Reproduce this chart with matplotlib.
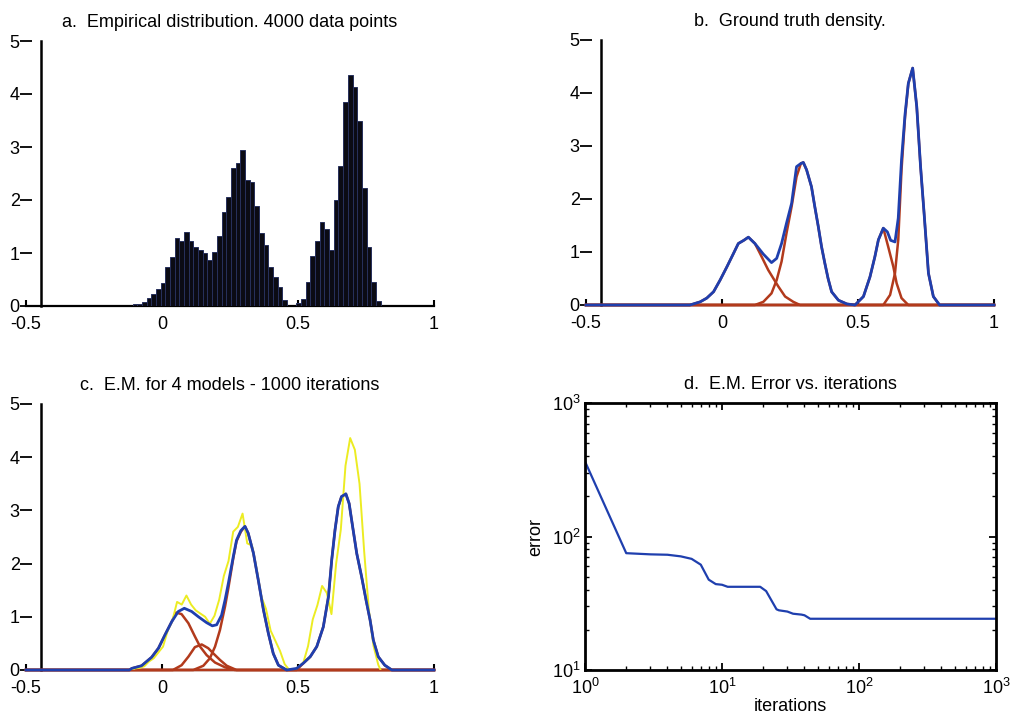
import matplotlib
matplotlib.use('Agg')
import matplotlib.pyplot as plt
import numpy as np

plt.rcParams['font.family'] = ['Liberation Sans', 'DejaVu Sans']
plt.rcParams['axes.unicode_minus'] = False
plt.rcParams['mathtext.default'] = 'regular'

BLUE = '#1f3fae'
RED = '#b23a1c'
YELLOW = '#ecec22'
FONT_SIZE = 13

# histogram of the 4000 samples (bin heights, density units)
bin_start = -0.108
bin_width = 0.0172
hist_heights = [0.03, 0.04, 0.07, 0.16, 0.22, 0.33, 0.44, 0.74, 0.93, 1.28, 1.23,
                1.40, 1.23, 1.12, 1.06, 1.00, 0.87, 1.02, 1.32, 1.77, 2.05, 2.60,
                2.69, 2.94, 2.38, 2.34, 1.89, 1.38, 1.15, 0.74, 0.55, 0.36, 0.11,
                0.0, 0.0,
                0.06, 0.14, 0.45, 0.95, 1.22, 1.58, 1.45, 1.05, 2.00, 2.64, 3.84,
                4.36, 4.14, 3.50, 2.22, 1.12, 0.45, 0.10]

# ground truth mixture and its four components
truth_x = [-0.5, -0.118, -0.08, -0.056, -0.031, -0.007, 0.018, 0.042, 0.060, 0.080,
           0.097, 0.121, 0.152, 0.182, 0.201, 0.219, 0.237, 0.256, 0.274, 0.290,
           0.299, 0.311, 0.329, 0.341, 0.354, 0.366, 0.378, 0.390, 0.403, 0.428,
           0.459, 0.489, 0.520, 0.544, 0.562, 0.575, 0.593, 0.608, 0.620, 0.636,
           0.648, 0.660, 0.673, 0.685, 0.701, 0.716, 0.730, 0.743, 0.759, 0.777,
           0.800, 1.0]
truth_y = [0, 0, 0.06, 0.13, 0.25, 0.47, 0.72, 0.97, 1.16, 1.22,
           1.28, 1.16, 0.96, 0.80, 0.88, 1.16, 1.54, 1.92, 2.61, 2.67,
           2.69, 2.55, 2.23, 1.86, 1.48, 1.10, 0.79, 0.50, 0.25, 0.09,
           0.02, 0, 0.16, 0.53, 0.91, 1.23, 1.45, 1.38, 1.22, 1.19,
           1.64, 2.74, 3.60, 4.18, 4.47, 3.74, 2.61, 1.73, 0.60, 0.16,
           0, 0]
truth_c1_x = [-0.5, -0.118, -0.08, -0.056, -0.031, -0.007, 0.018, 0.042, 0.060, 0.080,
              0.097, 0.121, 0.140, 0.170, 0.189, 0.207, 0.232, 0.262, 0.287, 1.0]
truth_c1_y = [0, 0, 0.06, 0.13, 0.25, 0.47, 0.72, 0.97, 1.16, 1.22,
              1.28, 1.16, 0.97, 0.66, 0.50, 0.35, 0.16, 0.06, 0, 0]
truth_c2_x = [-0.5, 0.121, 0.152, 0.182, 0.201, 0.219, 0.237, 0.256, 0.274, 0.290,
              0.299, 0.311, 0.329, 0.341, 0.354, 0.366, 0.378, 0.390, 0.403, 0.428,
              0.459, 0.489, 1.0]
truth_c2_y = [0, 0, 0.06, 0.22, 0.47, 0.82, 1.35, 1.86, 2.42, 2.67,
              2.69, 2.55, 2.23, 1.86, 1.48, 1.10, 0.79, 0.50, 0.25, 0.09,
              0.02, 0, 0]
truth_c3_x = [-0.5, 0.489, 0.520, 0.544, 0.562, 0.575, 0.593, 0.611, 0.630, 0.642,
              0.660, 0.685, 1.0]
truth_c3_y = [0, 0, 0.16, 0.53, 0.91, 1.23, 1.45, 1.10, 0.72, 0.41, 0.13, 0, 0]
truth_c4_x = [-0.5, 0.593, 0.618, 0.636, 0.648, 0.660, 0.673, 0.685, 0.701, 0.716,
              0.730, 0.743, 0.759, 0.777, 0.800, 1.0]
truth_c4_y = [0, 0, 0.19, 0.60, 1.23, 2.55, 3.55, 4.18, 4.47, 3.74,
              2.61, 1.73, 0.60, 0.16, 0, 0]

# E.M. fit after 1000 iterations
fit_x = [-0.5, -0.12, -0.111, -0.075, -0.038, -0.013, 0.011, 0.036, 0.060, 0.082,
         0.109, 0.134, 0.164, 0.185, 0.201, 0.219, 0.232, 0.244, 0.262, 0.274,
         0.290, 0.305, 0.317, 0.336, 0.354, 0.373, 0.391, 0.409, 0.428, 0.458,
         0.495, 0.520, 0.545, 0.569, 0.593, 0.612, 0.624, 0.636, 0.648, 0.660,
         0.676, 0.688, 0.701, 0.716, 0.734, 0.750, 0.765, 0.777, 0.795, 0.819,
         0.845, 1.0]
fit_y = [0, 0, 0.03, 0.08, 0.24, 0.41, 0.66, 0.91, 1.10, 1.16,
         1.10, 1.00, 0.89, 0.83, 0.85, 1.03, 1.32, 1.63, 2.13, 2.44,
         2.62, 2.70, 2.57, 2.20, 1.69, 1.13, 0.69, 0.31, 0.09, 0.0,
         0.03, 0.13, 0.25, 0.44, 0.81, 1.38, 2.07, 2.63, 3.07, 3.26,
         3.31, 3.13, 2.69, 2.19, 1.75, 1.32, 0.94, 0.56, 0.25, 0.09,
         0, 0]
fit_c1_x = [-0.5, -0.12, -0.111, -0.075, -0.038, -0.013, 0.011, 0.036, 0.052, 0.072,
            0.097, 0.121, 0.140, 0.164, 0.195, 0.232, 0.268, 1.0]
fit_c1_y = [0, 0, 0.03, 0.08, 0.24, 0.41, 0.66, 0.91, 1.08, 1.05,
            0.88, 0.63, 0.44, 0.28, 0.14, 0.05, 0, 0]
fit_c2_x = [-0.5, 0.040, 0.072, 0.097, 0.121, 0.146, 0.170, 0.189, 0.213, 0.238, 0.274, 1.0]
fit_c2_y = [0, 0, 0.09, 0.25, 0.43, 0.48, 0.41, 0.31, 0.19, 0.08, 0, 0]
fit_c3_x = [-0.5, 0.115, 0.152, 0.176, 0.195, 0.213, 0.232, 0.244, 0.262, 0.274,
            0.290, 0.305, 0.317, 0.336, 0.354, 0.373, 0.391, 0.409, 0.428, 0.458, 1.0]
fit_c3_y = [0, 0, 0.08, 0.22, 0.44, 0.75, 1.20, 1.54, 2.10, 2.42,
            2.60, 2.70, 2.57, 2.20, 1.69, 1.13, 0.69, 0.31, 0.09, 0, 0]
fit_c4_x = [-0.5, 0.495, 0.520, 0.545, 0.569, 0.593, 0.612, 0.624, 0.636, 0.648,
            0.660, 0.676, 0.688, 0.701, 0.716, 0.734, 0.750, 0.765, 0.777, 0.795,
            0.819, 0.845, 1.0]
fit_c4_y = [0, 0, 0.13, 0.25, 0.44, 0.81, 1.38, 2.07, 2.63, 3.07,
            3.26, 3.31, 3.13, 2.69, 2.19, 1.75, 1.32, 0.94, 0.56, 0.25,
            0.09, 0, 0]

# error curve
iterations = [1, 2, 3, 4, 5, 6, 7, 8, 9, 10, 11, 19, 21, 25, 26, 30, 33, 38, 40, 44, 1000]
errors = [365, 75, 73.5, 73, 71, 68, 61.5, 47.5, 44, 43.5, 42, 42, 39, 28.5, 28,
          27.4, 26.4, 26, 25.7, 24.2, 24.2]


def style_density_axes(ax, title):
    ax.set_xlim(-0.5, 1)
    ax.set_ylim(0, 5)
    for side in ['top', 'right', 'left']:
        ax.spines[side].set_visible(False)
    ax.spines['bottom'].set_linewidth(1.6)
    ax.spines['bottom'].set_zorder(1)
    # y axis line sits slightly inside the left limit
    ax.plot([-0.446, -0.446], [0, 5], color='black', linewidth=1.8, clip_on=False, zorder=1)
    ax.set_xticks([-0.5, 0, 0.5, 1])
    ax.set_xticklabels(['-0.5', '0', '0.5', '1'])
    ax.set_yticks(range(6))
    ax.tick_params(axis='x', direction='in', length=4, width=1.5, pad=7, labelsize=FONT_SIZE)
    ax.tick_params(axis='y', direction='inout', length=8, width=1.3, pad=0.5, labelsize=FONT_SIZE)
    ax.set_title(title, fontsize=FONT_SIZE, pad=10)


fig = plt.figure(figsize=(10.16, 7.25), dpi=100)
fig.patch.set_facecolor('white')

# a. histogram
ax_a = fig.add_axes([26 / 1016, (725 - 306) / 725, 408 / 1016, 265 / 725])
centers = bin_start + bin_width * (np.arange(len(hist_heights)) + 0.5)
ax_a.bar(centers, hist_heights, width=bin_width, color='#0b0b14',
         edgecolor='#27305c', linewidth=0.7, zorder=2)
style_density_axes(ax_a, 'a.  Empirical distribution. 4000 data points')

# b. true density with components
ax_b = fig.add_axes([586 / 1016, (725 - 305) / 725, 408 / 1016, 265 / 725])
for cx, cy in [(truth_c1_x, truth_c1_y), (truth_c2_x, truth_c2_y),
               (truth_c3_x, truth_c3_y), (truth_c4_x, truth_c4_y)]:
    ax_b.plot(cx, cy, color=RED, linewidth=1.8, clip_on=False, zorder=2)
ax_b.plot(truth_x, truth_y, color=BLUE, linewidth=2.0, clip_on=False, zorder=3)
style_density_axes(ax_b, 'b.  Ground truth density.')

# c. E.M. fit over the histogram
ax_c = fig.add_axes([26 / 1016, (725 - 670) / 725, 408 / 1016, 266 / 725])
for cx, cy in [(fit_c1_x, fit_c1_y), (fit_c2_x, fit_c2_y),
               (fit_c3_x, fit_c3_y), (fit_c4_x, fit_c4_y)]:
    ax_c.plot(cx, cy, color=RED, linewidth=1.8, clip_on=False, zorder=2)
hist_line_x = np.concatenate([[bin_start], centers, [bin_start + bin_width * len(hist_heights)]])
hist_line_y = np.concatenate([[0], hist_heights, [0]])
ax_c.plot(hist_line_x, hist_line_y, color=YELLOW, linewidth=1.4, zorder=2.5)
ax_c.plot(fit_x, fit_y, color=BLUE, linewidth=2.0, clip_on=False, zorder=3)
style_density_axes(ax_c, 'c.  E.M. for 4 models - 1000 iterations')

# d. error vs iterations
ax_d = fig.add_axes([585 / 1016, (725 - 670) / 725, 411 / 1016, 267 / 725])
ax_d.loglog(iterations, errors, color=BLUE, linewidth=1.6)
ax_d.set_xlim(1, 1000)
ax_d.set_ylim(10, 1000)
for side in ax_d.spines.values():
    side.set_linewidth(2.0)
ax_d.tick_params(which='both', direction='in', top=True, right=True, labelsize=FONT_SIZE)
ax_d.tick_params(which='major', length=5, width=1.3)
ax_d.tick_params(which='minor', length=3, width=1.0)
ax_d.tick_params(axis='x', pad=6)
ax_d.tick_params(axis='y', pad=3)
ax_d.set_xlabel('iterations', fontsize=FONT_SIZE, labelpad=0)
ax_d.set_ylabel('error', fontsize=FONT_SIZE, labelpad=6)
ax_d.set_title('d.  E.M. Error vs. iterations', fontsize=FONT_SIZE, pad=10)

fig.savefig('out.png', dpi=100, facecolor='white')
